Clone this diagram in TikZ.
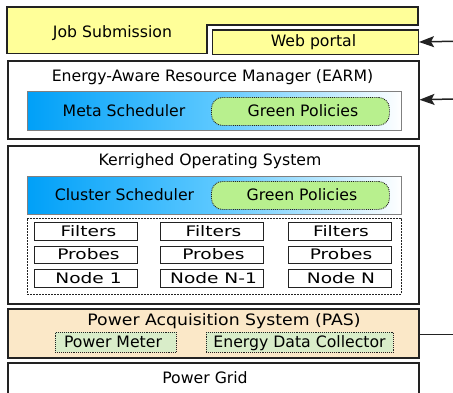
\documentclass[tikz,border=0pt]{standalone}
\usepackage{fontspec}
\setmainfont{DejaVu Sans}
\newfontfamily\widefont[FakeStretch=1.28]{DejaVu Sans}
\newfontfamily\pasfont[FakeStretch=1.1]{DejaVu Sans}
\usetikzlibrary{arrows.meta}
\definecolor{jobyellow}{HTML}{FFFF99}
\definecolor{schedblue}{HTML}{00A0F8}
\definecolor{schedmid}{HTML}{5CC8FF}
\definecolor{greenpol}{HTML}{B8F08E}
\definecolor{pasfill}{HTML}{FBE8C8}
\definecolor{meterfill}{HTML}{D9EDC9}
\definecolor{edge}{HTML}{222222}
\begin{document}
\begin{tikzpicture}[x=1pt,y=-1pt,
  font=\fontsize{15.7}{18}\selectfont,
  frame/.style={draw=edge, line width=1.5pt, inner sep=0pt, anchor=north west},
  schedbar/.style={draw=black!50, line width=1pt, inner sep=0pt, anchor=north west,
    left color=schedblue, right color=white, middle color=schedmid},
  policy/.style={draw=edge, densely dotted, line width=0.9pt, fill=greenpol,
    rounded corners=11pt, inner sep=0pt, anchor=north west},
  cell/.style={draw=edge, line width=1.2pt, inner sep=0pt, anchor=north west,
    minimum width=103pt},
  meter/.style={draw=edge, densely dotted, line width=0.9pt, fill=meterfill,
    inner sep=0pt, anchor=north west, minimum height=20pt},
  lbl/.style={anchor=base, inner sep=0pt},
  small/.style={lbl, font=\widefont\fontsize{14.5}{16}\selectfont},
  feed/.style={draw=edge, line width=1.5pt, -{Stealth[length=15pt,width=11pt,inset=3pt]}}]
\path[use as bounding box] (0,0) rectangle (453,392);
\clip (0,0) rectangle (453,392);

% job submission layer with its notch for the web portal
\draw[fill=jobyellow, draw=edge, line width=1.5pt]
  (7,7) -- (418,7) -- (418,25) -- (207,25) -- (207,53.5) -- (7,53.5) -- cycle;
\node[lbl] (jobtxt) at (112.5,37.3) {Job Submission};
\node[frame, fill=jobyellow, minimum width=206pt, minimum height=24.5pt] (web) at (211.5,29) {};
\node[lbl] (webtxt) at (313.5,46.5) {Web portal};

% resource manager
\node[frame, minimum width=411pt, minimum height=78pt] (earm) at (7,60) {};
\node[lbl] (earmtxt) at (212.5,81.7) {Energy-Aware Resource Manager (EARM)};
\node[schedbar, minimum width=374pt, minimum height=39pt] (meta) at (27,91) {};
\node[lbl] (metatxt) at (124,116) {Meta Scheduler};
\node[policy, minimum width=178pt, minimum height=28pt] (gp1) at (211,97) {};
\node[lbl] (gp1txt) at (303,116.5) {Green Policies};

% operating system
\node[frame, minimum width=411pt, minimum height=158pt] (krg) at (7,145) {};
\node[lbl] (krgtxt) at (210,165.5) {Kerrighed Operating System};
\node[schedbar, minimum width=374pt, minimum height=38pt] (cluster) at (27,176) {};
\node[lbl] (clustertxt) at (124.5,200) {Cluster Scheduler};
\node[policy, minimum width=178pt, minimum height=28pt] (gp2) at (211,181) {};
\node[lbl] (gp2txt) at (302,200) {Green Policies};
\node[draw=edge, dash pattern=on 2pt off 1pt, line width=0.8pt, inner sep=0pt,
  anchor=north west, minimum width=374pt, minimum height=76pt] (nodes) at (27,218) {};

% per-node stacks
\foreach \i/\x/\tx/\name in {1/34/88.5/Node 1, 2/160/213.5/Node N-1, 3/288/341/Node N} {
  \node[cell, minimum height=18pt] (filt\i) at (\x,222) {};
  \node[small] (filttxt\i) at (\tx,236.5) {Filters};
  \node[cell, minimum height=17pt] (prob\i) at (\x,246) {};
  \node[small] (probtxt\i) at (\tx,259.3) {Probes};
  \node[cell, minimum height=18pt] (node\i) at (\x,269) {};
  \node[small] (nodetxt\i) at (\tx,283.3) {\name};
}

% power acquisition
\node[frame, fill=pasfill, minimum width=411pt, minimum height=49pt] (pas) at (7,308) {};
\node[lbl, font=\pasfont\fontsize{15.7}{18}\selectfont] (pastxt) at (224,325) {Power Acquisition System (PAS)};
\node[meter, minimum width=121pt] (meterbox) at (55,332) {};
\node[lbl] (metertxt) at (113,347.5) {Power Meter};
\node[meter, minimum width=187pt] (collector) at (206,332) {};
\node[lbl] (collectortxt) at (299.5,347.5) {Energy Data Collector};

% power grid
\node[frame, minimum width=411pt, minimum height=40pt] (grid) at (7,362) {};
\node[lbl] (gridtxt) at (205,383.3) {Power Grid};

% external links
\coordinate (webin) at (453,41.25);
\coordinate (earmin) at (453,99);
\coordinate (pasout) at (453,334.5);
\draw[feed] (webin) -- (web.east);
\draw[feed] (earmin) -- (earm.east);
\draw[draw=edge, line width=1.5pt] (pasout) -- (pasout -| pas.east);
\end{tikzpicture}
\end{document}
